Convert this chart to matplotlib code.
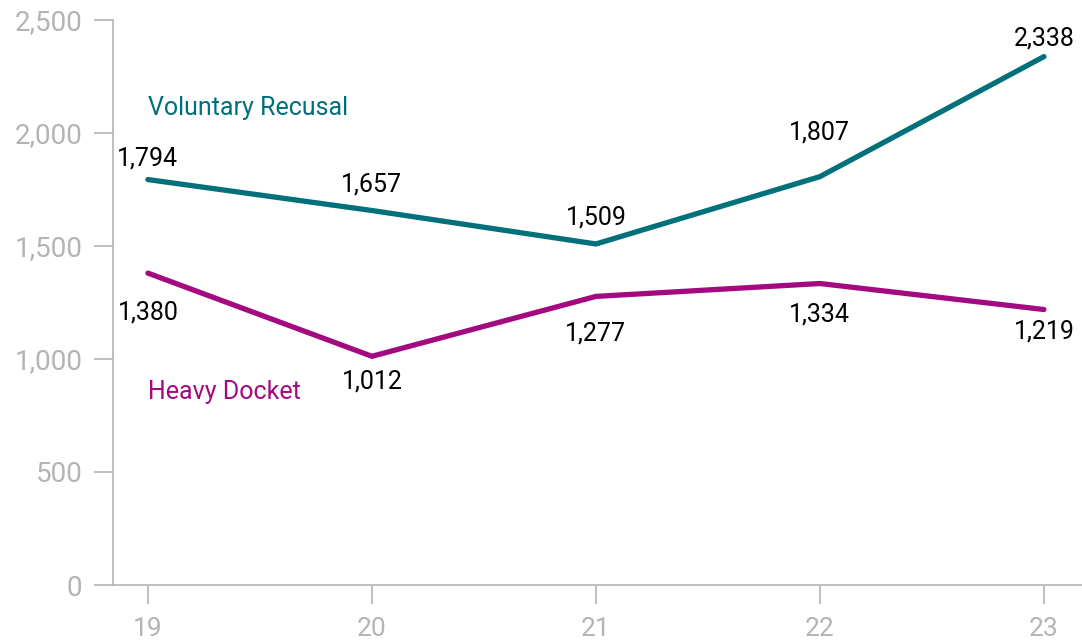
import matplotlib.pyplot as plt

# data
years = [19, 20, 21, 22, 23]
voluntary = [1794, 1657, 1509, 1807, 2338]
heavy = [1380, 1012, 1277, 1334, 1219]
year_labels = ['19', '20', '21', '22', '23']
y_ticks = [0, 500, 1000, 1500, 2000, 2500]

teal = '#00707a'
magenta = '#a30a80'
grey = '#b4b4b4'

plt.rcParams['font.family'] = ['Roboto', 'DejaVu Sans']

fig = plt.figure(figsize=(10.82, 6.41), dpi=100)
ax = fig.add_axes([113 / 1082, 56 / 641, 969 / 1082, 565 / 641])

ax.plot(years, voluntary, color=teal, lw=3.8, solid_capstyle='round', solid_joinstyle='miter')
ax.plot(years, heavy, color=magenta, lw=3.8, solid_capstyle='round', solid_joinstyle='miter')

# value labels (offsets in points)
v_off = [15, 19, 19, 32, 13]
h_off = [-28, -18, -27, -22, -16]
for x, v, o in zip(years, voluntary, v_off):
    ax.annotate(f'{v:,}', (x, v), xytext=(0, o), textcoords='offset points',
                ha='center', va='center', fontsize=18, color='black')
for x, v, o in zip(years, heavy, h_off):
    ax.annotate(f'{v:,}', (x, v), xytext=(0, o), textcoords='offset points',
                ha='center', va='center', fontsize=18, color='black')

ax.text(19, 2110, 'Voluntary Recusal', color=teal, fontsize=18, ha='left', va='center')
ax.text(19, 855, 'Heavy Docket', color=magenta, fontsize=18, ha='left', va='center')

ax.set_xlim(18.844, 23.17)
ax.set_ylim(0, 2500)
ax.set_xticks(years)
ax.set_xticklabels(year_labels)
ax.set_yticks(y_ticks)
ax.set_yticklabels([f'{t:,}' for t in y_ticks])

for s in ['top', 'right']:
    ax.spines[s].set_visible(False)
for s in ['left', 'bottom']:
    ax.spines[s].set_color(grey)
    ax.spines[s].set_linewidth(1.2)

ax.tick_params(axis='both', colors=grey, labelsize=20, width=1.2, length=14)
ax.tick_params(axis='x', pad=9, labelsize=19)
ax.tick_params(axis='y', pad=8)

fig.savefig('out.png', dpi=100)
